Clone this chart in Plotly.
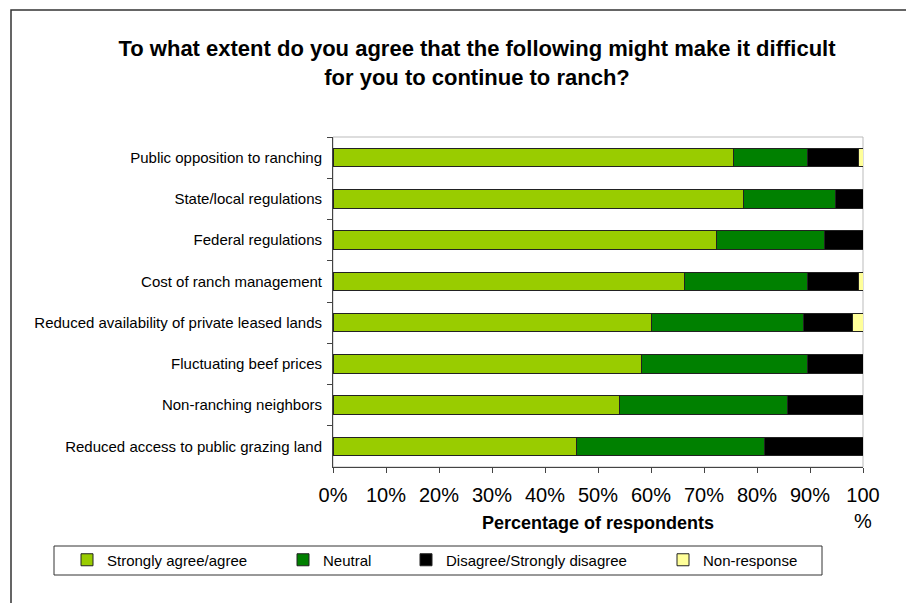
import plotly.graph_objects as go

categories = [
    "Public opposition to ranching",
    "State/local regulations",
    "Federal regulations",
    "Cost of ranch management",
    "Reduced availability of private leased lands",
    "Fluctuating beef prices",
    "Non-ranching neighbors",
    "Reduced access to public grazing land",
]
agree = [75.5, 77.4, 72.4, 66.4, 60.1, 58.3, 54.0, 45.9]
neutral = [14.1, 17.5, 20.3, 23.2, 28.6, 31.3, 31.7, 35.6]
disagree = [9.5, 5.1, 7.3, 9.5, 9.3, 10.4, 14.3, 18.5]
nonresponse = [0.9, 0, 0, 0.9, 2.0, 0, 0, 0]

series_names = ["Strongly agree/agree", "Neutral", "Disagree/Strongly disagree", "Non-response"]
series_colors = ["#99CC00", "#008000", "#000000", "#FFFF99"]
series_values = [agree, neutral, disagree, nonresponse]

x_tickvals = [0, 10, 20, 30, 40, 50, 60, 70, 80, 90, 100]
x_ticktext = ["0%", "10%", "20%", "30%", "40%", "50%", "60%", "70%", "80%", "90%", "100<br>%"]

FONT = "Arial, 'Liberation Sans', sans-serif"
W, H = 906, 603
L, R, T, B = 333, 43, 137, 136
pw, ph = W - L - R, H - T - B

def px(x):
    return (x - L) / pw

def py(y):
    return (H - B - y) / ph

fig = go.Figure()
legend_ids = ["legend", "legend2", "legend3", "legend4"]
legend_px = [67, 283, 406, 663]
for name, color, vals, lg in zip(series_names, series_colors, series_values, legend_ids):
    fig.add_trace(go.Bar(
        y=categories,
        x=[v if v > 0 else None for v in vals],
        name=name,
        orientation="h",
        marker=dict(color=color, line=dict(color="#222222", width=1)),
        legend=lg,
        showlegend=True,
    ))

layout_legends = {}
for lg, lx in zip(legend_ids, legend_px):
    layout_legends[lg] = dict(
        x=px(lx), xanchor="left", y=py(560), yanchor="middle",
        orientation="h", font=dict(family=FONT, size=15, color="black"),
        bgcolor="rgba(0,0,0,0)", itemwidth=30,
    )

fig.update_layout(
    width=W, height=H,
    margin=dict(l=L, r=R, t=T, b=B),
    paper_bgcolor="white", plot_bgcolor="white",
    barmode="stack", bargap=0.55,
    showlegend=True,
    font=dict(family=FONT, color="black"),
    title=dict(
        text="<b>To what extent do you agree that the following might make it difficult<br>for you to continue to ranch?</b>",
        x=477 / W, xanchor="center", y=1 - 56 / H, yanchor="middle",
        font=dict(family=FONT, size=22, color="black"),
    ),
    xaxis=dict(
        range=[0, 100], tickvals=x_tickvals, ticktext=x_ticktext,
        showgrid=False, zeroline=False, showline=True, linecolor="#444444", linewidth=1,
        ticks="outside", ticklen=5, tickcolor="#444444", ticklabelstandoff=5,
        tickfont=dict(family=FONT, size=20, color="black"),
    ),
    yaxis=dict(
        autorange="reversed", showgrid=False, zeroline=False,
        showline=True, linecolor="#444444", linewidth=1,
        ticks="outside", ticklen=5, tickcolor="#444444", tickson="boundaries",
        ticklabelstandoff=7,
        tickfont=dict(family=FONT, size=15, color="black"),
    ),
    annotations=[
        dict(text="<b>Percentage of respondents</b>", xref="paper", yref="paper",
             x=0.5, y=py(523), xanchor="center", yanchor="middle", showarrow=False,
             font=dict(family=FONT, size=18, color="black")),
    ],
    shapes=[
        dict(type="rect", xref="paper", yref="paper", x0=0, x1=1, y0=0, y1=1,
             line=dict(color="#BBBBBB", width=1), layer="below"),
        dict(type="rect", xref="paper", yref="paper", x0=px(54), x1=px(822), y0=py(575), y1=py(546),
             line=dict(color="#333333", width=1)),
        dict(type="rect", xref="paper", yref="paper", x0=px(11), x1=px(915), y0=py(615), y1=py(10),
             line=dict(color="#333333", width=1.5)),
    ],
    **layout_legends,
)

fig.write_html("out.html")
